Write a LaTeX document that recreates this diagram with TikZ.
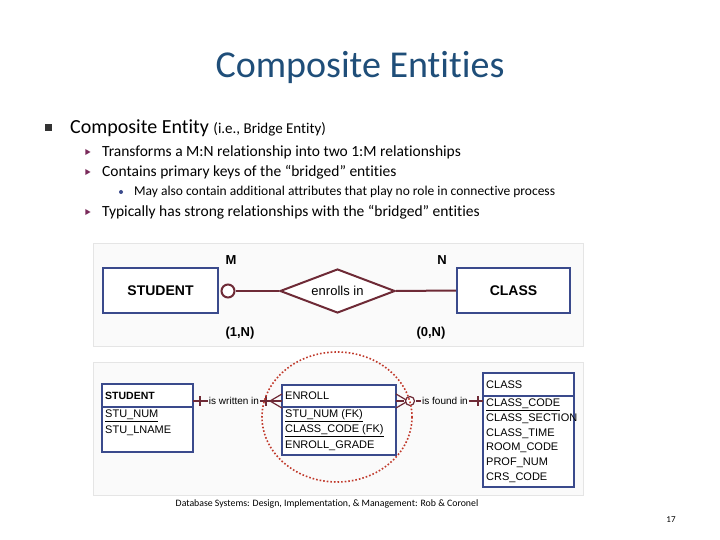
\documentclass[tikz,border=0pt]{standalone}
\usepackage{fontspec}
\setmainfont{Carlito}[Ligatures=NoCommon]
\newfontfamily\diag{Liberation Sans}
\usetikzlibrary{shapes.geometric,arrows.meta}
\definecolor{titleblue}{HTML}{1F4E79}
\definecolor{navy}{HTML}{3A4A8C}
\definecolor{maroon}{HTML}{6E2A36}
\definecolor{purp}{HTML}{7A2A5A}
\definecolor{redd}{HTML}{C0392B}
\begin{document}
\begin{tikzpicture}[x=1pt,y=-1pt,
  ent/.style={draw=navy,line width=2.2pt,fill=white,font=\diag\bfseries\fontsize{14}{16}\selectfont},
  tbl/.style={draw=navy,line width=1.6pt,fill=white},
  rel/.style={draw=maroon,line width=2pt},
  lnk/.style={draw=maroon,line width=1.2pt},
  att/.style={font=\diag\fontsize{11}{12}\selectfont,anchor=west,inner sep=0pt},
  lbl/.style={font=\diag\bfseries\fontsize{13}{15}\selectfont},
  tri/.style={fill=purp,draw=none,regular polygon,regular polygon sides=3,shape border rotate=-90,minimum size=7pt,inner sep=0pt},
  btxt/.style={anchor=west,inner sep=0pt,font=\fontsize{15.5}{18}\selectfont}]
\useasboundingbox (0,0) rectangle (720,540);
\fill[white] (0,0) rectangle (720,540);
\node[font=\fontsize{38}{42}\selectfont,text=titleblue] (title) at (360,67) {Composite Entities};
\node[fill=black!80,minimum size=7pt,inner sep=0pt] (sq) at (48,128) {};
\node[btxt,font=\fontsize{20}{24}\selectfont] (ce) at (70,128) {Composite Entity {\fontsize{15}{18}\selectfont (i.e., Bridge Entity)}};
\node[tri] (t1) at (87,152) {};
\node[btxt] (b1) at (102,152) {Transforms a M:N relationship into two 1:M relationships};
\node[tri] (t2) at (87,172) {};
\node[btxt] (b2) at (102,172) {Contains primary keys of the “bridged” entities};
\node[circle,fill=navy,minimum size=4pt,inner sep=0pt] (d1) at (121,192) {};
\node[btxt,font=\fontsize{13.5}{16}\selectfont] (s1) at (134,192) {May also contain additional attributes that play no role in connective process};
\node[tri] (t3) at (87,212) {};
\node[btxt] (b3) at (102,212) {Typically has strong relationships with the “bridged” entities};
% top panel
\node[draw=black!10,fill=black!2,minimum width=490pt,minimum height=103pt,anchor=north west,inner sep=0pt] (p1) at (93,243) {};
\node[ent,minimum width=115pt,minimum height=45pt] (stu) at (160.5,290.5) {STUDENT};
\node[ent,minimum width=113pt,minimum height=45pt] (cls) at (513.5,290.5) {CLASS};
\node[diamond,draw=maroon,line width=2pt,fill=white,aspect=2.6,minimum width=115pt,minimum height=44pt,inner sep=0pt,font=\diag\fontsize{13}{15}\selectfont] (dia) at (337.5,291) {enrolls in};
\node[circle,draw=maroon,line width=2pt,fill=white,minimum size=13pt,inner sep=0pt] (oc) at (228,291) {};
\draw[rel] (oc.east) -- (dia.west);
\draw[rel] (dia.east) -- (cls.west);
\node[lbl] (m) at (231,260) {M};
\node[lbl] (n) at (442,260) {N};
\node[lbl] (c1) at (240,333) {(1,N)};
\node[lbl] (c2) at (431,333) {(0,N)};
% bottom panel
\node[draw=black!10,fill=black!2,minimum width=490pt,minimum height=133pt,anchor=north west,inner sep=0pt] (p2) at (93,362) {};
\draw[tbl] (102,384) rectangle (193,452); \draw[tbl] (102,407) -- (193,407);
\node[att,font=\diag\bfseries\fontsize{10.5}{12}\selectfont] (sh) at (105,396) {STUDENT};
\node[att] (sa1) at (105,416) {\underline{STU\_NUM}};
\node[att] (sa2) at (105,431) {STU\_LNAME};
\draw[tbl] (282,385) rectangle (396,455); \draw[tbl] (282,407) -- (396,407);
\node[att] (eh) at (285,396) {ENROLL};
\node[att] (ea1) at (285,416) {\underline{STU\_NUM (FK)}};
\node[att] (ea2) at (285,431) {\underline{CLASS\_CODE (FK)}};
\node[att] (ea3) at (285,446) {ENROLL\_GRADE};
\draw[tbl] (483,373) rectangle (574,487); \draw[tbl] (483,396) -- (574,396);
\node[att] (ch) at (486,385) {CLASS};
\node[att] (ca1) at (486,405) {\underline{CLASS\_CODE}};
\node[att] (ca2) at (486,419) {CLASS\_SECTION};
\node[att] (ca3) at (486,434) {CLASS\_TIME};
\node[att] (ca4) at (486,448) {ROOM\_CODE};
\node[att] (ca5) at (486,463) {PROF\_NUM};
\node[att] (ca6) at (486,478) {CRS\_CODE};
\coordinate (sR) at (193,401); \coordinate (eL) at (282,401);
\coordinate (eR) at (396,401); \coordinate (cL) at (483,401);
\node[font=\diag\fontsize{10}{11}\selectfont,fill=black!2,inner sep=1pt] (w) at (234,401) {is written in};
\node[font=\diag\fontsize{10}{11}\selectfont,fill=black!2,inner sep=1pt] (f) at (445,401) {is found in};
\draw[lnk] (sR) -- (w.west); \draw[lnk] (w.east) -- (eL);
\draw[lnk] (eR) -- (404,401); \draw[lnk] (416,401) -- (f.west); \draw[lnk] (f.east) -- (cL);
\draw[lnk] (200,396) -- (200,406);
\draw[lnk] (266,396) -- (266,406);
\draw[lnk] (282,394) -- (270,401) -- (282,408);
\draw[lnk] (478,396) -- (478,406);
\draw[lnk] (396,394) -- (408,401) -- (396,408);
\node[circle,draw=maroon,line width=1.2pt,fill=white,minimum size=9pt,inner sep=0pt] (fc) at (410,401) {};
\draw[redd,line width=1.6pt,dotted] (337,417) ellipse [x radius=75,y radius=65];
\node[font=\fontsize{9.8}{11}\selectfont] (cite) at (327,504) {Database Systems: Design, Implementation, \& Management: Rob \& Coronel};
\node[font=\fontsize{9}{11}\selectfont] (pg) at (671,520) {17};
\end{tikzpicture}
\end{document}
